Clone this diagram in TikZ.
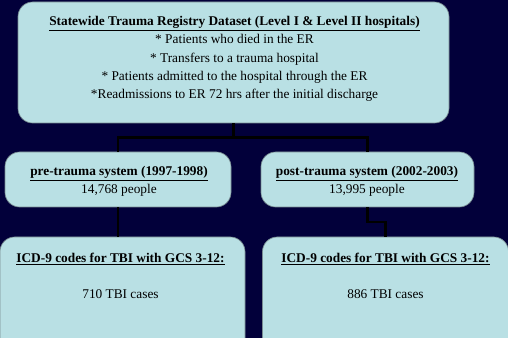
\documentclass[tikz,border=0pt]{standalone}
\usepackage{fontspec}
\setmainfont{Liberation Serif}
\usetikzlibrary{positioning}

\definecolor{navybg}{RGB}{2,0,58}
\definecolor{boxfill}{RGB}{185,224,228}
\definecolor{boxline}{RGB}{120,140,145}

\tikzset{
  box/.style={draw=boxline, line width=0.5pt, fill=boxfill, rounded corners=11pt, inner sep=0pt},
  txt/.style={inner sep=0pt, align=center, font=\fontsize{10}{13.7}\selectfont},
  link/.style={draw=black, line width=1.6pt}
}

\begin{document}
\begin{tikzpicture}[x=0.75pt,y=0.75pt,yscale=-1,xscale=1]
\useasboundingbox (0,0) rectangle (508,338);
\clip (0,0) rectangle (508,338);
\fill[navybg] (0,0) rectangle (508,338);

%Boxes
\node [box, minimum width=431*0.75pt, minimum height=121*0.75pt] (registry) at (233.5,62.5) {};
\node [box, minimum width=226*0.75pt, minimum height=55*0.75pt] (pre) at (118,179.5) {};
\node [box, minimum width=213*0.75pt, minimum height=55*0.75pt] (post) at (367.5,179.5) {};
\node [box, minimum width=245*0.75pt, minimum height=116*0.75pt] (precases) at (122.5,295) {};
\node [box, minimum width=246*0.75pt, minimum height=116*0.75pt] (postcases) at (385.5,295) {};

%Connectors
\draw [link] (registry.south) -- (registry.south |- 0,137.5) coordinate (split) -| (pre.north);
\draw [link] (split) -| (post.north);
\draw [link] (pre.south) -- (pre.south |- precases.north);
\draw [link] (post.south) -- ++(0,15) coordinate (jog) -| (postcases.north);

% Text Node
\node [txt, anchor=north] (registrytxt) at (234.5,16) {\textbf{\underline{Statewide Trauma Registry Dataset (Level I \& Level II hospitals)}}\\
* Patients who died in the ER\\
* Transfers to a trauma hospital\\
* Patients admitted to the hospital through the ER\\
*Readmissions to ER 72 hrs after the initial discharge};
% Text Node
\node [txt, anchor=north] (pretxt) at (119,166) {\textbf{\underline{pre-trauma system (1997-1998)}}\\14,768 people};
% Text Node
\node [txt, anchor=north] (posttxt) at (367,166) {\textbf{\underline{post-trauma system (2002-2003)}}\\13,995 people};
% Text Node
\node [txt, anchor=north] (precasestxt) at (120.5,253) {\textbf{\underline{ICD-9 codes for TBI with GCS 3-12:}}\\[13pt]710 TBI cases};
% Text Node
\node [txt, anchor=north] (postcasestxt) at (385.5,253) {\textbf{\underline{ICD-9 codes for TBI with GCS 3-12:}}\\[13pt]886 TBI cases};

\end{tikzpicture}
\end{document}
